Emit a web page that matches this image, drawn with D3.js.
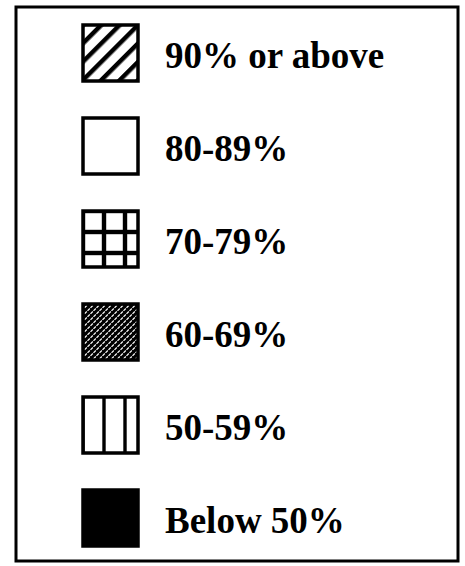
<!DOCTYPE html>
<html>
<head>
<meta charset="utf-8">
<script src="https://cdn.jsdelivr.net/npm/d3@7"></script>
<style>
  body { margin: 0; background: #fff; }
  svg { display: block; }
</style>
</head>
<body>
<div id="chart"></div>
<script>
// legend entries, top to bottom
const categories = ["90% or above", "80-89%", "70-79%", "60-69%", "50-59%", "Below 50%"];
const fills = ["diag", "blank", "grid", "speckle", "vlines", "solid"];

const width = 465, height = 566;
const frame = {left: 16, top: 7, right: 458, bottom: 561};
const swatch = {x: 83, w: 55, h: 56};

var svg = d3.select("#chart")
  .append("svg")
    .attr("width", width)
    .attr("height", height);

var defs = svg.append("defs");

// diagonal stripes "/"
var diag = defs.append("pattern")
  .attr("id", "diag")
  .attr("patternUnits", "userSpaceOnUse")
  .attr("width", 13).attr("height", 13)
  .attr("patternTransform", "rotate(45)");
diag.append("rect").attr("width", 13).attr("height", 13).attr("fill", "#fff");
diag.append("rect").attr("x", 0).attr("width", 4.5).attr("height", 13).attr("fill", "#000");

// thick grid, lines split across the tile edge so they are not clipped
var grid = defs.append("pattern")
  .attr("id", "grid")
  .attr("patternUnits", "objectBoundingBox")
  .attr("width", 21 / swatch.w).attr("height", 21 / swatch.h);
grid.append("rect").attr("width", 21).attr("height", 21).attr("fill", "#fff");
grid.append("rect").attr("x", 0).attr("width", 2.2).attr("height", 21).attr("fill", "#000");
grid.append("rect").attr("x", 18.8).attr("width", 2.2).attr("height", 21).attr("fill", "#000");
grid.append("rect").attr("y", 0).attr("width", 21).attr("height", 2.2).attr("fill", "#000");
grid.append("rect").attr("y", 18.8).attr("width", 21).attr("height", 2.2).attr("fill", "#000");

// dense dark speckle
var speckle = defs.append("pattern")
  .attr("id", "speckle")
  .attr("patternUnits", "userSpaceOnUse")
  .attr("width", 6).attr("height", 6);
speckle.append("rect").attr("width", 6).attr("height", 6).attr("fill", "#000");
speckle.append("line")
  .attr("x1", 0.5).attr("y1", 2.8).attr("x2", 2.8).attr("y2", 0.5)
  .attr("stroke", "#fff").attr("stroke-width", 1.2);
speckle.append("line")
  .attr("x1", 3.5).attr("y1", 5.8).attr("x2", 5.8).attr("y2", 3.5)
  .attr("stroke", "#fff").attr("stroke-width", 1.2);

// vertical lines
var vlines = defs.append("pattern")
  .attr("id", "vlines")
  .attr("patternUnits", "objectBoundingBox")
  .attr("width", 21 / swatch.w).attr("height", 1);
vlines.append("rect").attr("width", 21).attr("height", 60).attr("fill", "#fff");
vlines.append("rect").attr("x", 0).attr("width", 1.7).attr("height", 60).attr("fill", "#000");
vlines.append("rect").attr("x", 19.3).attr("width", 1.7).attr("height", 60).attr("fill", "#000");

// outer frame
svg.append("rect")
  .attr("x", frame.left)
  .attr("y", frame.top)
  .attr("width", frame.right - frame.left)
  .attr("height", frame.bottom - frame.top)
  .attr("fill", "none")
  .attr("stroke", "#000")
  .attr("stroke-width", 3);

// rows by baseline
var y = d3.scalePoint()
  .domain(categories)
  .range([68, 533]);

var rows = svg.selectAll(".row")
  .data(categories)
  .enter()
  .append("g")
    .attr("class", "row")
    .attr("transform", d => "translate(0," + y(d) + ")");

rows.append("rect")
  .attr("x", swatch.x)
  .attr("y", -43)
  .attr("width", swatch.w)
  .attr("height", swatch.h)
  .attr("fill", (d, i) => {
    if (fills[i] == "blank") return "#fff";
    if (fills[i] == "solid") return "#000";
    return "url(#" + fills[i] + ")";
  })
  .attr("stroke", "#000")
  .attr("stroke-width", 3.5);

rows.append("text")
  .attr("x", 165)
  .attr("y", 0)
  .attr("font-family", "'Liberation Serif', 'Times New Roman', serif")
  .attr("font-weight", "bold")
  .attr("font-size", 37)
  .attr("fill", "#000")
  .text(d => d);
</script>
</body>
</html>
